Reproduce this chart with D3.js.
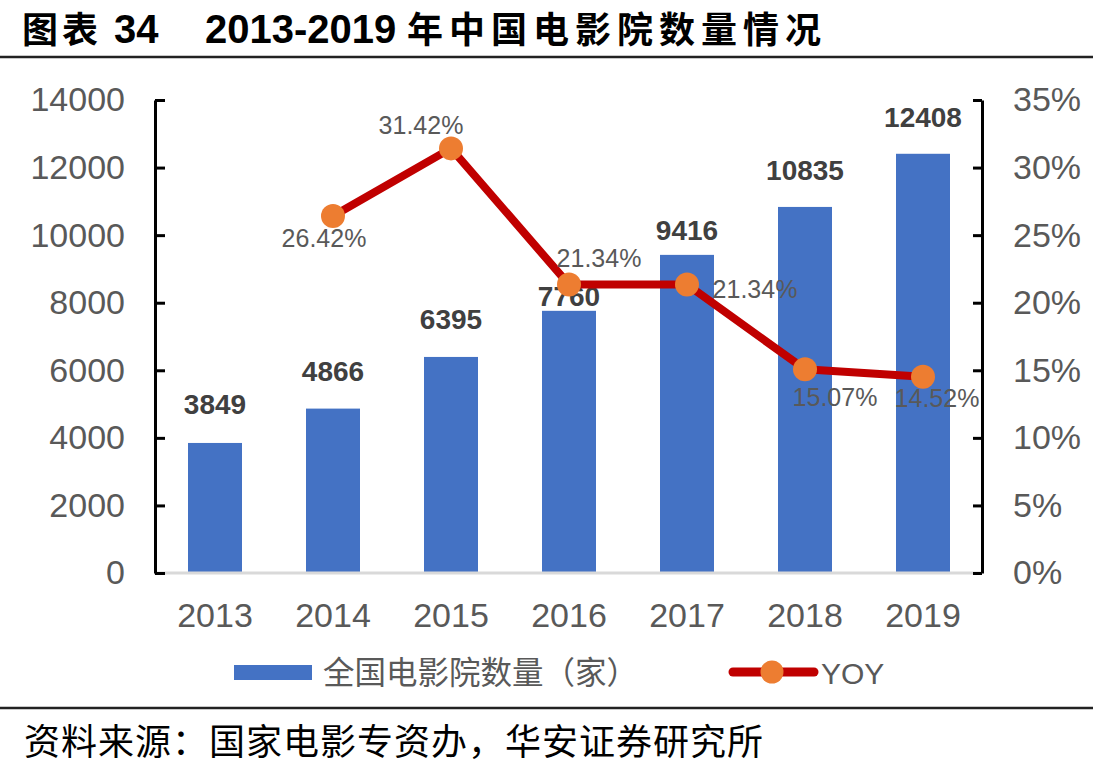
<!DOCTYPE html>
<html>
<head>
<meta charset="utf-8">
<script src="https://cdn.jsdelivr.net/npm/d3@7/dist/d3.min.js"></script>
<style>
  body { margin: 0; background: #fff; }
  svg { display: block; }
</style>
</head>
<body>
<svg width="1093" height="776"></svg>
<script>
// data
const years = ["2013", "2014", "2015", "2016", "2017", "2018", "2019"];
const cinemas = [3849, 4866, 6395, 7760, 9416, 10835, 12408];
const yoyYears = ["2014", "2015", "2016", "2017", "2018", "2019"];
const yoy = [0.2642, 0.3142, 0.2134, 0.2134, 0.1507, 0.1452];
const leftTicks = [0, 2000, 4000, 6000, 8000, 10000, 12000, 14000];
const rightTicks = [0, 0.05, 0.10, 0.15, 0.20, 0.25, 0.30, 0.35];

// label placement (offsets from the mark), picked to match the original
const barLabelDy = [-29, -28, -28, -5, -15, -27, -27];
const yoyLabelDx = [-9, -30, 30, 68, 30, 14];
const yoyLabelDy = [31, -14, -18, 13, 37, 30];

const svg = d3.select("svg"),
    width = +svg.attr("width"),
    height = +svg.attr("height");

const latin = '"Liberation Sans", Arial, sans-serif';
const cjk = '"Noto Sans CJK SC", "Liberation Sans", sans-serif';
const grey = "#595959";

const plot = {left: 156, right: 982, top: 100, bottom: 573};

const x = d3.scaleBand()
    .domain(years)
    .range([plot.left, plot.right])
    .paddingInner(0.5424)
    .paddingOuter(0.2712);
const yL = d3.scaleLinear().domain([0, 14000]).range([plot.bottom, plot.top]);
const yR = d3.scaleLinear().domain([0, 0.35]).range([plot.bottom, plot.top]);
const cx = d => x(d) + x.bandwidth() / 2;

// title + rules
const title = svg.append("text")
    .attr("y", 43)
    .style("font-weight", 700).style("font-size", "36px");
title.append("tspan").attr("x", 22)
    .style("font-family", cjk).style("letter-spacing", "4px").text("图表");
title.append("tspan").attr("x", 114)
    .style("font-family", latin).style("font-size", "40px").text("34");
title.append("tspan").attr("x", 205)
    .style("font-family", latin).style("font-size", "40px").text("2013-2019");
title.append("tspan").attr("x", 407)
    .style("font-family", cjk).style("letter-spacing", "6px").text("年中国电影院数量情况");

svg.append("line")
    .attr("x1", 0).attr("x2", width).attr("y1", 57).attr("y2", 57)
    .attr("stroke", "#222").attr("stroke-width", 2.5);
svg.append("line")
    .attr("x1", 0).attr("x2", width).attr("y1", 708).attr("y2", 708)
    .attr("stroke", "#222").attr("stroke-width", 2.5);
svg.append("text")
    .attr("x", 24).attr("y", 755)
    .style("font-family", cjk).style("font-size", "36px")
    .style("letter-spacing", "1px")
    .text("资料来源：国家电影专资办，华安证券研究所");

// bars
svg.append("g")
    .selectAll("rect")
    .data(years)
    .enter().append("rect")
    .attr("x", d => x(d))
    .attr("width", x.bandwidth())
    .attr("y", (d, i) => yL(cinemas[i]))
    .attr("height", (d, i) => plot.bottom - yL(cinemas[i]))
    .attr("fill", "#4472C4");

// baseline
svg.append("line")
    .attr("x1", plot.left - 2).attr("x2", plot.right)
    .attr("y1", plot.bottom).attr("y2", plot.bottom)
    .attr("stroke", "#d9d9d9").attr("stroke-width", 3);

// axes
const axisL = svg.append("g")
    .attr("transform", `translate(${plot.left - 1},0)`)
    .call(d3.axisLeft(yL).tickValues(leftTicks).tickSizeInner(-10).tickSizeOuter(0)
        .tickPadding(30).tickFormat(d3.format("d")));
const axisR = svg.append("g")
    .attr("transform", `translate(${plot.right},0)`)
    .call(d3.axisRight(yR).tickValues(rightTicks).tickSizeInner(-9).tickSizeOuter(0)
        .tickPadding(31).tickFormat(d3.format(".0%")));
for (const a of [axisL, axisR]) {
    a.select(".domain").attr("stroke", "#000").attr("stroke-width", 3);
    a.selectAll(".tick line").attr("stroke", "#000").attr("stroke-width", 3);
    a.selectAll(".tick text")
        .style("font-family", latin).style("font-size", "34px").attr("fill", grey);
}

const axisB = svg.append("g")
    .attr("transform", `translate(0,${plot.bottom})`)
    .call(d3.axisBottom(x).tickSize(0).tickPadding(30));
axisB.select(".domain").remove();
axisB.selectAll(".tick text")
    .style("font-family", latin).style("font-size", "34px").attr("fill", grey);

// bar value labels
svg.append("g")
    .selectAll("text")
    .data(years)
    .enter().append("text")
    .attr("x", d => cx(d))
    .attr("y", (d, i) => yL(cinemas[i]) + barLabelDy[i])
    .attr("text-anchor", "middle")
    .style("font-family", latin).style("font-weight", 700).style("font-size", "28px")
    .attr("fill", "#404040")
    .text((d, i) => cinemas[i]);

// YOY line
const line = d3.line()
    .x((d, i) => cx(yoyYears[i]))
    .y(d => yR(d));
svg.append("path")
    .datum(yoy)
    .attr("d", line)
    .attr("fill", "none")
    .attr("stroke", "#C00000")
    .attr("stroke-width", 8)
    .attr("stroke-linejoin", "round");
svg.append("g")
    .selectAll("circle")
    .data(yoy)
    .enter().append("circle")
    .attr("cx", (d, i) => cx(yoyYears[i]))
    .attr("cy", d => yR(d))
    .attr("r", 12)
    .attr("fill", "#ED7D31");

svg.append("g")
    .selectAll("text")
    .data(yoy)
    .enter().append("text")
    .attr("x", (d, i) => cx(yoyYears[i]) + yoyLabelDx[i])
    .attr("y", (d, i) => yR(d) + yoyLabelDy[i])
    .attr("text-anchor", "middle")
    .style("font-family", latin).style("font-size", "25px")
    .attr("fill", grey)
    .text(d => d3.format(".2%")(d));

// legend
const legend = svg.append("g");
legend.append("rect")
    .attr("x", 234).attr("y", 665).attr("width", 78).attr("height", 15)
    .attr("fill", "#4472C4");
legend.append("text")
    .attr("x", 323).attr("y", 684)
    .style("font-family", cjk).style("font-size", "31.5px")
    .attr("fill", grey)
    .text("全国电影院数量（家）");
legend.append("line")
    .attr("x1", 733).attr("x2", 814).attr("y1", 672).attr("y2", 672)
    .attr("stroke", "#C00000").attr("stroke-width", 9).attr("stroke-linecap", "round");
legend.append("circle")
    .attr("cx", 772).attr("cy", 672).attr("r", 11.5)
    .attr("fill", "#ED7D31");
legend.append("text")
    .attr("x", 821).attr("y", 684)
    .style("font-family", latin).style("font-size", "30px")
    .attr("fill", grey)
    .text("YOY");
</script>
</body>
</html>
